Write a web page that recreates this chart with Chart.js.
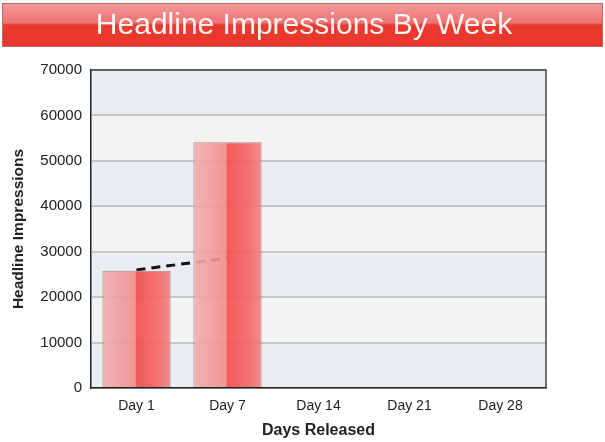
<!DOCTYPE html>
<html>
<head>
<meta charset="utf-8">
<script src="https://cdn.jsdelivr.net/npm/chart.js@4.4.0/dist/chart.umd.min.js"></script>
<style>
  html, body { margin: 0; padding: 0; background: #ffffff; }
  #wrap { width: 605px; height: 442px; }
</style>
</head>
<body>
<div id="wrap"><canvas id="c" width="605" height="442"></canvas></div>
<script>
const titleText = 'Headline Impressions By Week';
const categories = ['Day 1', 'Day 7', 'Day 14', 'Day 21', 'Day 28'];
const impressions = [25800, 54100, null, null, null];
const trend = [26000, 28600, null, null, null];
const yTicks = [0, 10000, 20000, 30000, 40000, 50000, 60000, 70000];
const xTitle = 'Days Released';
const yTitle = 'Headline Impressions';

const FONT = "'Liberation Sans', Arial, sans-serif";

function barFill(ctx) {
  const chart = ctx.chart;
  const xs = chart.scales.x;
  if (!xs || !chart.chartArea) return 'rgba(240,90,90,0.88)';
  const cx = xs.getPixelForValue(ctx.dataIndex);
  const hw = (xs.width / categories.length) * 0.75 / 2;
  const g = chart.ctx.createLinearGradient(cx - hw, 0, cx + hw, 0);
  g.addColorStop(0, 'rgba(236,180,180,0.9)');
  g.addColorStop(0.08, 'rgba(240,168,168,0.9)');
  g.addColorStop(0.48, 'rgba(240,140,140,0.9)');
  g.addColorStop(0.5, 'rgba(243,78,78,0.92)');
  g.addColorStop(0.8, 'rgba(242,100,100,0.9)');
  g.addColorStop(1, 'rgba(240,130,130,0.9)');
  return g;
}

const backdrop = {
  id: 'backdrop',
  beforeDraw(chart) {
    const c = chart.ctx;
    c.save();
    // banner
    const bx = 2, by = 3, bw = 601, bh = 44;
    const g = c.createLinearGradient(0, by, 0, by + bh);
    g.addColorStop(0, '#f29a9a');
    g.addColorStop(0.45, '#ee7474');
    g.addColorStop(0.5, '#ea3a30');
    g.addColorStop(1, '#e8362c');
    c.fillStyle = g;
    c.fillRect(bx, by, bw, bh);
    c.strokeStyle = '#b86a6a';
    c.lineWidth = 1;
    c.strokeRect(bx + 0.5, by + 0.5, bw - 1, bh - 1);
    c.fillStyle = '#fff4f4';
    c.font = '30px ' + FONT;
    c.textAlign = 'center';
    c.textBaseline = 'middle';
    c.fillText(titleText, 304, 26);
    // bands
    const a = chart.chartArea;
    const ys = chart.scales.y;
    for (let i = 0; i < yTicks.length - 1; i++) {
      const y0 = ys.getPixelForValue(yTicks[i]);
      const y1 = ys.getPixelForValue(yTicks[i + 1]);
      c.fillStyle = (i % 2 === 0) ? '#e9eef2' : '#f3f3f3';
      c.fillRect(a.left, y1, a.right - a.left, y0 - y1);
    }
    c.restore();
  },
  afterDatasetsDraw(chart) {
    const c = chart.ctx;
    const a = chart.chartArea;
    c.save();
    c.strokeStyle = '#444444';
    c.lineWidth = 1.5;
    c.beginPath();
    c.moveTo(a.left, a.top);
    c.lineTo(a.right, a.top);
    c.lineTo(a.right, a.bottom);
    c.stroke();
    c.restore();
  }
};

new Chart(document.getElementById('c'), {
  data: {
    labels: categories,
    datasets: [
      {
        type: 'bar',
        data: impressions,
        order: 1,
        backgroundColor: barFill,
        borderColor: 'rgba(160,100,100,0.75)',
        borderWidth: 1,
        barPercentage: 0.75,
        categoryPercentage: 1.0
      },
      {
        type: 'line',
        data: trend,
        order: 2,
        borderColor: '#111111',
        borderWidth: 3,
        borderDash: [9, 6],
        pointRadius: 0,
        fill: false,
        tension: 0
      }
    ]
  },
  options: {
    responsive: false,
    animation: false,
    devicePixelRatio: 1,
    layout: { padding: { left: 0, right: 59, top: 70, bottom: 0 } },
    plugins: {
      legend: { display: false },
      tooltip: { enabled: false },
      title: { display: false }
    },
    scales: {
      x: {
        grid: { display: false, drawTicks: false },
        border: { display: true, color: '#222222', width: 1.5 },
        ticks: { color: '#222222', font: { family: FONT, size: 14 }, padding: 10 },
        title: {
          display: true,
          text: xTitle,
          color: '#222222',
          font: { family: FONT, size: 16, weight: 'bold' },
          padding: { top: 0, bottom: 2 }
        },
        afterFit(s) { s.height = 54; }
      },
      y: {
        min: 0,
        max: 70000,
        afterBuildTicks(s) { s.ticks = yTicks.map(v => ({ value: v })); },
        grid: { color: '#c6c6c6', lineWidth: 2, drawTicks: false },
        border: { display: true, color: '#222222', width: 1.5 },
        ticks: {
          color: '#222222',
          font: { family: FONT, size: 15 },
          padding: 9,
          callback: v => String(v)
        },
        title: {
          display: true,
          text: yTitle,
          color: '#222222',
          font: { family: FONT, size: 15.5, weight: 'bold' },
          padding: { top: 9, bottom: 0 }
        },
        afterFit(s) { s.width = 91; }
      }
    }
  },
  plugins: [backdrop]
});
</script>
</body>
</html>
